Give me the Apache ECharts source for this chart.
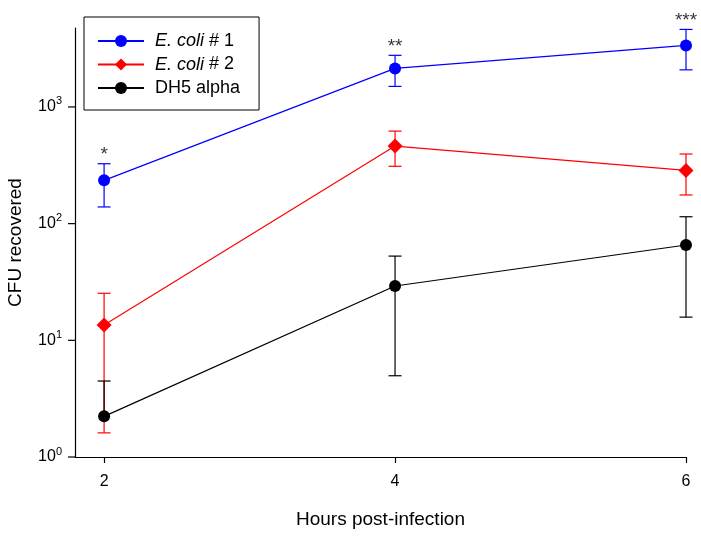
<!DOCTYPE html>
<html>
<head>
<meta charset="utf-8">
<script src="https://cdn.jsdelivr.net/npm/echarts@6/dist/echarts.min.js"></script>
<style>html,body{margin:0;padding:0;background:#fff}#c{width:701px;height:539px}</style>
</head>
<body>
<div id="c"></div>
<script>
const hours = [2, 4, 6];
const seriesNames = ['E. coli # 1', 'E. coli # 2', 'DH5 alpha'];
const ecoli1 = [235, 2140, 3370];
const ecoli1Hi = [326, 2770, 4620];
const ecoli1Lo = [139, 1500, 2080];
const ecoli2 = [13.5, 462, 286];
const ecoli2Hi = [25.3, 621, 395];
const ecoli2Lo = [1.61, 310, 176];
const dh5 = [2.23, 29.2, 65.6];
const dh5Hi = [4.48, 52.7, 114.6];
const dh5Lo = [null, 4.97, 15.8];
const signif = ['*', '**', '***'];
const xTicks = [2, 4, 6];
const yTicks = [1, 10, 100, 1000];

const FONT = 'Liberation Sans';
const X_MIN = 1.8, X_MAX = 6, Y_MIN = 1, Y_MAX = 4750;
const colors = ['#0000ff', '#ff0000', '#000000'];
const means = [ecoli1, ecoli2, dh5];
const his = [ecoli1Hi, ecoli2Hi, dh5Hi];
const los = [ecoli1Lo, ecoli2Lo, dh5Lo];
const symbols = ['circle', 'diamond', 'circle'];
const symSizes = [12, 15, 12];

const chart = echarts.init(document.getElementById('c'), null, {renderer: 'canvas'});

function errSeries(k) {
  return {
    type: 'custom',
    z: 1,
    silent: true,
    data: hours.map((h, i) => [h, means[k][i]]),
    renderItem: function (params, api) {
      const i = params.dataIndex;
      const x = hours[i];
      const hi = his[k][i], lo = los[k][i];
      const pm = api.coord([x, means[k][i]]);
      const ph = api.coord([x, hi]);
      const w = 6.5;
      const st = {stroke: colors[k], lineWidth: 1.2};
      const ch = [
        {type: 'line', shape: {x1: ph[0], y1: ph[1], x2: pm[0], y2: pm[1]}, style: st},
        {type: 'line', shape: {x1: ph[0] - w, y1: ph[1], x2: ph[0] + w, y2: ph[1]}, style: st}
      ];
      if (lo != null) {
        const pl = api.coord([x, lo]);
        ch.push({type: 'line', shape: {x1: pm[0], y1: pm[1], x2: pl[0], y2: pl[1]}, style: st});
        ch.push({type: 'line', shape: {x1: pl[0] - w, y1: pl[1], x2: pl[0] + w, y2: pl[1]}, style: st});
      }
      return {type: 'group', children: ch};
    }
  };
}

const series = [];
// y-axis decade tick marks (placed through the axis scale)
series.push({
  type: 'custom',
  silent: true,
  z: 1,
  clip: false,
  data: yTicks.map(v => [X_MIN, v]),
  renderItem: function (params, api) {
    const p = api.coord([api.value(0), api.value(1)]);
    return {type: 'line', shape: {x1: p[0] - 7, y1: p[1], x2: p[0], y2: p[1]}, style: {stroke: '#000', lineWidth: 1.2}};
  }
});
for (let k = 0; k < 3; k++) series.push(errSeries(k));
for (let k = 0; k < 3; k++) {
  series.push({
    name: seriesNames[k],
    type: 'line',
    z: 3,
    data: hours.map((h, i) => [h, means[k][i]]),
    symbol: symbols[k],
    symbolSize: symSizes[k],
    showAllSymbol: true,
    color: colors[k],
    lineStyle: {color: colors[k], width: 1.2},
    itemStyle: {color: colors[k]},
    emphasis: {disabled: true},
    animation: false
  });
}
series.push({
  type: 'scatter',
  symbolSize: 0,
  silent: true,
  data: hours.map((h, i) => [h, ecoli1Hi[i]]),
  label: {
    show: true, position: 'top', distance: -1,
    formatter: p => signif[p.dataIndex],
    fontFamily: FONT, fontSize: 19, color: '#000'
  }
});

const option = {
  animation: false,
  backgroundColor: '#fff',
  textStyle: {fontFamily: FONT},
  grid: {left: 75, right: 15, top: 28, bottom: 82, containLabel: false, outerBoundsMode: 'none'},
  legend: {
    left: 84, top: 17,
    orient: 'vertical',
    data: seriesNames,
    itemWidth: 46, itemHeight: 15, itemGap: 5.5,
    padding: [15, 19, 13, 13],
    borderColor: '#000', borderWidth: 1,
    selectedMode: false,
    formatter: function (name) {
      if (name.indexOf('E. coli') === 0) return '{i|E. coli}{n|' + name.slice(7) + '}';
      return '{f|' + name + '}';
    },
    textStyle: {
      fontFamily: FONT, fontSize: 18, color: '#000',
      rich: {
        i: {fontStyle: 'italic', fontFamily: FONT, fontSize: 18, color: '#000', lineHeight: 15, padding: [0, 0, 0, 6]},
        n: {fontFamily: FONT, fontSize: 18, color: '#000', lineHeight: 15},
        f: {fontFamily: FONT, fontSize: 18, color: '#000', lineHeight: 15, padding: [0, 0, 0, 6]}
      }
    }
  },
  xAxis: {
    type: 'value', min: X_MIN, max: X_MAX,
    name: 'Hours post-infection', nameLocation: 'middle', nameGap: 53,
    nameTextStyle: {fontFamily: FONT, fontSize: 19, color: '#000'},
    axisLine: {show: true, onZero: false, lineStyle: {color: '#000', width: 1.2}},
    axisTick: {show: true, length: 6, lineStyle: {color: '#000', width: 1.2}, customValues: xTicks},
    axisLabel: {fontFamily: FONT, fontSize: 16, color: '#000', margin: 17, customValues: xTicks},
    splitLine: {show: false}
  },
  yAxis: {
    type: 'log', logBase: 10, min: Y_MIN, max: Y_MAX, interval: 1,
    name: 'CFU recovered', nameLocation: 'middle', nameGap: 50,
    nameTextStyle: {fontFamily: FONT, fontSize: 19, color: '#000'},
    axisLine: {show: true, lineStyle: {color: '#000', width: 1.2}},
    axisTick: {show: false},
    minorTick: {show: false},
    axisLabel: {
      customValues: yTicks,
      margin: 13,
      formatter: v => '{b|10}{s|' + Math.round(Math.log10(v)) + '}',
      rich: {
        b: {fontFamily: FONT, fontSize: 16, color: '#000'},
        s: {fontFamily: FONT, fontSize: 11, color: '#000', padding: [0, 0, 11, 0]}
      }
    },
    splitLine: {show: false}
  },
  series: series
};
chart.setOption(option);
</script>
</body>
</html>
